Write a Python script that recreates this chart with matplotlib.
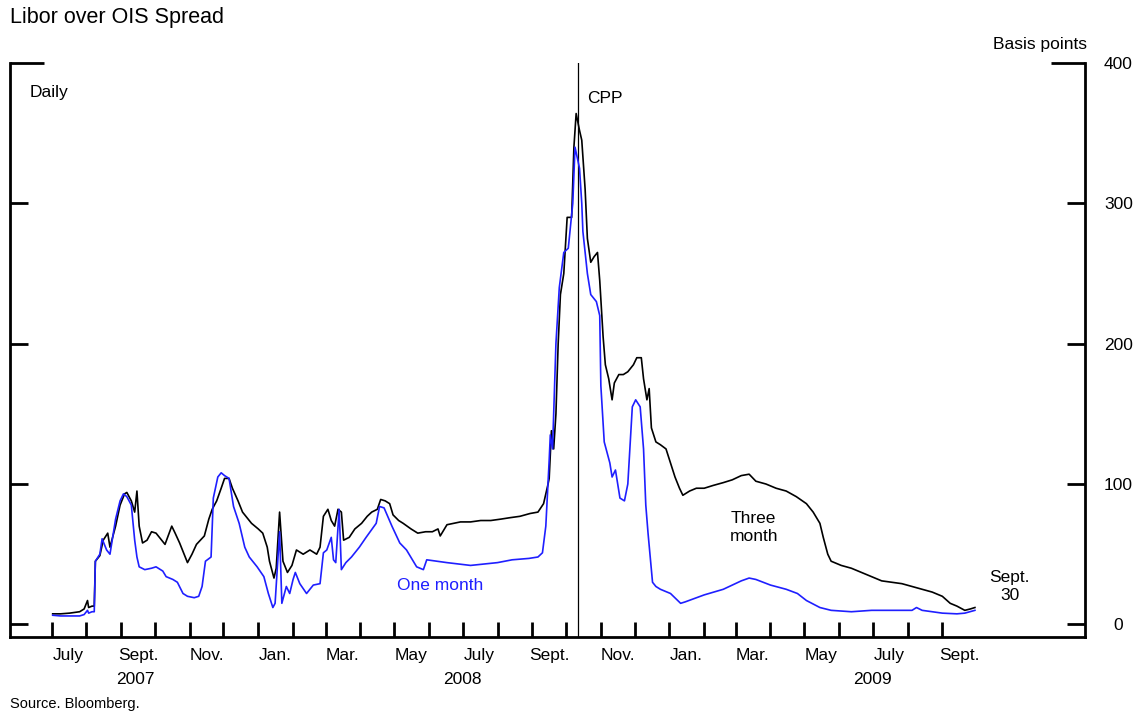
import matplotlib
matplotlib.use("Agg")
import matplotlib.pyplot as plt
import matplotlib.transforms as mtransforms
import numpy as np
import pandas as pd

plt.rcParams['font.family'] = ['Liberation Sans', 'DejaVu Sans']

# ---------------- data (basis points) ----------------
three_month_dates = [
    "2007-07-02", "2007-07-09", "2007-07-17", "2007-07-26", "2007-07-30", "2007-08-02", "2007-08-03",
    "2007-08-06", "2007-08-08", "2007-08-09", "2007-08-13", "2007-08-16", "2007-08-20", "2007-08-22",
    "2007-08-27", "2007-08-31", "2007-09-04", "2007-09-06", "2007-09-10", "2007-09-13", "2007-09-15",
    "2007-09-17", "2007-09-20", "2007-09-24", "2007-09-28", "2007-10-02", "2007-10-07", "2007-10-10",
    "2007-10-16", "2007-10-19", "2007-10-23", "2007-10-27", "2007-10-30", "2007-11-03", "2007-11-07",
    "2007-11-14", "2007-11-18", "2007-11-21", "2007-11-25", "2007-11-29", "2007-12-02", "2007-12-06",
    "2007-12-09", "2007-12-14", "2007-12-18", "2007-12-23", "2007-12-26", "2008-01-01", "2008-01-05",
    "2008-01-09", "2008-01-11", "2008-01-15", "2008-01-17", "2008-01-20", "2008-01-23", "2008-01-27",
    "2008-01-31", "2008-02-04", "2008-02-10", "2008-02-16", "2008-02-22", "2008-02-25", "2008-02-28",
    "2008-03-03", "2008-03-06", "2008-03-09", "2008-03-12", "2008-03-15", "2008-03-17", "2008-03-22",
    "2008-03-27", "2008-04-02", "2008-04-07", "2008-04-11", "2008-04-16", "2008-04-19", "2008-04-23",
    "2008-04-27", "2008-04-30", "2008-05-05", "2008-05-09", "2008-05-16", "2008-05-22", "2008-05-29",
    "2008-06-04", "2008-06-09", "2008-06-11", "2008-06-17", "2008-06-29", "2008-07-08", "2008-07-17",
    "2008-07-26", "2008-08-04", "2008-08-12", "2008-08-21", "2008-08-30", "2008-09-06", "2008-09-11",
    "2008-09-15", "2008-09-16", "2008-09-18", "2008-09-20", "2008-09-22", "2008-09-24", "2008-09-26",
    "2008-09-29", "2008-10-02", "2008-10-06", "2008-10-08", "2008-10-10", "2008-10-13", "2008-10-15",
    "2008-10-18", "2008-10-20", "2008-10-23", "2008-10-26", "2008-10-29", "2008-10-31", "2008-11-03",
    "2008-11-05", "2008-11-08", "2008-11-11", "2008-11-13", "2008-11-17", "2008-11-21", "2008-11-25",
    "2008-11-30", "2008-12-03", "2008-12-07", "2008-12-09", "2008-12-12", "2008-12-14", "2008-12-16",
    "2008-12-20", "2008-12-24", "2008-12-29", "2009-01-02", "2009-01-06", "2009-01-10", "2009-01-13",
    "2009-01-19", "2009-01-25", "2009-02-01", "2009-02-09", "2009-02-18", "2009-02-26", "2009-03-06",
    "2009-03-13", "2009-03-19", "2009-03-28", "2009-04-06", "2009-04-15", "2009-04-24", "2009-05-03",
    "2009-05-09", "2009-05-15", "2009-05-18", "2009-05-22", "2009-05-25", "2009-06-03", "2009-06-12",
    "2009-06-21", "2009-06-30", "2009-07-09", "2009-07-18", "2009-07-27", "2009-08-05", "2009-08-14",
    "2009-08-23", "2009-09-01", "2009-09-08", "2009-09-14", "2009-09-21", "2009-09-26", "2009-09-30",
]
three_month_values = [
    7.5, 7.5, 8, 9, 11, 17, 12,
    13, 13, 45, 49, 60, 65, 55,
    70, 85, 93, 94, 88, 80, 95,
    70, 58, 60, 66, 65, 60, 57,
    70, 65, 58, 50, 44, 50, 57,
    63, 75, 82, 88, 97, 104, 104,
    97, 88, 80, 75, 72, 68, 65,
    55, 45, 33, 40, 80, 45, 37,
    42, 53, 50, 53, 50, 55, 77,
    82, 74, 70, 82, 80, 60, 62,
    68, 72, 77, 80, 82, 89, 88,
    86, 78, 74, 72, 68, 65, 66,
    66, 68, 63, 71, 73, 73, 74,
    74, 75, 76, 77, 79, 80, 86,
    100, 104, 138, 125, 150, 200, 235,
    250, 290, 290, 340, 364, 352, 345,
    310, 275, 258, 262, 265, 245, 205,
    185, 175, 160, 172, 178, 178, 180,
    185, 190, 190, 175, 160, 168, 140,
    130, 128, 125, 115, 105, 97, 92,
    95, 97, 97, 99, 101, 103, 106,
    107, 102, 100, 97, 95, 91, 86,
    80, 72, 62, 50, 45, 42, 40,
    37, 34, 31, 30, 29, 27, 25,
    23, 20, 15, 13, 10, 11, 12,
]

one_month_dates = [
    "2007-07-02", "2007-07-09", "2007-07-17", "2007-07-26", "2007-07-30", "2007-08-02", "2007-08-03",
    "2007-08-06", "2007-08-08", "2007-08-09", "2007-08-13", "2007-08-15", "2007-08-19", "2007-08-22",
    "2007-08-27", "2007-08-31", "2007-09-03", "2007-09-06", "2007-09-10", "2007-09-13", "2007-09-15",
    "2007-09-17", "2007-09-22", "2007-09-28", "2007-10-02", "2007-10-08", "2007-10-11", "2007-10-17",
    "2007-10-21", "2007-10-26", "2007-10-30", "2007-11-05", "2007-11-09", "2007-11-12", "2007-11-15",
    "2007-11-20", "2007-11-22", "2007-11-26", "2007-11-29", "2007-12-02", "2007-12-06", "2007-12-10",
    "2007-12-15", "2007-12-20", "2007-12-24", "2007-12-31", "2008-01-06", "2008-01-10", "2008-01-14",
    "2008-01-16", "2008-01-20", "2008-01-22", "2008-01-26", "2008-01-29", "2008-02-01", "2008-02-03",
    "2008-02-07", "2008-02-13", "2008-02-19", "2008-02-25", "2008-02-28", "2008-03-02", "2008-03-06",
    "2008-03-08", "2008-03-10", "2008-03-13", "2008-03-15", "2008-03-19", "2008-03-24", "2008-03-31",
    "2008-04-06", "2008-04-15", "2008-04-18", "2008-04-22", "2008-04-29", "2008-05-06", "2008-05-12",
    "2008-05-21", "2008-05-27", "2008-05-30", "2008-06-17", "2008-07-08", "2008-08-01", "2008-08-14",
    "2008-08-29", "2008-09-06", "2008-09-10", "2008-09-13", "2008-09-16", "2008-09-17", "2008-09-19",
    "2008-09-22", "2008-09-25", "2008-09-29", "2008-10-03", "2008-10-07", "2008-10-09", "2008-10-13",
    "2008-10-15", "2008-10-16", "2008-10-20", "2008-10-23", "2008-10-28", "2008-10-31", "2008-11-01",
    "2008-11-04", "2008-11-09", "2008-11-11", "2008-11-14", "2008-11-18", "2008-11-22", "2008-11-25",
    "2008-11-29", "2008-12-02", "2008-12-06", "2008-12-09", "2008-12-11", "2008-12-13", "2008-12-17",
    "2008-12-20", "2008-12-24", "2009-01-02", "2009-01-11", "2009-01-15", "2009-02-01", "2009-02-18",
    "2009-03-06", "2009-03-13", "2009-03-19", "2009-04-01", "2009-04-15", "2009-04-25", "2009-05-03",
    "2009-05-15", "2009-05-25", "2009-06-12", "2009-06-30", "2009-07-18", "2009-07-27", "2009-08-05",
    "2009-08-09", "2009-08-14", "2009-08-23", "2009-09-01", "2009-09-14", "2009-09-21", "2009-09-30",
]
one_month_values = [
    6.5, 6, 6, 6, 7, 10, 8,
    9, 9, 45, 50, 61, 53, 50,
    75, 88, 93, 91, 85, 60, 48,
    41, 39, 40, 41, 38, 34, 32,
    30, 22, 20, 19, 20, 27, 45,
    48, 90, 105, 108, 106, 104, 84,
    72, 55, 48, 41, 34, 22, 12,
    15, 66, 15, 27, 22, 32, 37,
    29, 22, 28, 29, 51, 53, 62,
    46, 44, 82, 39, 44, 48, 55,
    62, 72, 84, 83, 70, 58, 53,
    41, 39, 46, 44, 42, 44, 46,
    47, 48, 51, 70, 117, 135, 125,
    200, 240, 265, 268, 300, 340, 325,
    300, 280, 250, 235, 230, 220, 170,
    130, 115, 105, 110, 90, 88, 100,
    155, 160, 155, 125, 85, 65, 30,
    27, 25, 22, 15, 16, 21, 25,
    31, 33, 32, 28, 25, 22, 17,
    12, 10, 9, 10, 10, 10, 10,
    12, 10, 9, 8, 7.5, 8, 10,
]

month_labels = ["July", "Sept.", "Nov.", "Jan.", "Mar.", "May", "July", "Sept.",
                "Nov.", "Jan.", "Mar.", "May", "July", "Sept."]
year_labels = ["2007", "2008", "2009"]
year_label_dates = ["2007-09-14", "2008-07-01", "2009-07-01"]
y_ticks = [0, 100, 200, 300, 400]
cpp_date = "2008-10-12"

# ---------------- figure ----------------
fig = plt.figure(figsize=(11.37, 7.13), dpi=100)
ax = fig.add_axes([10 / 1137, 1 - 637 / 713, (1085 - 10) / 1137, (637 - 63) / 713])

d3 = pd.to_datetime(three_month_dates)
d1 = pd.to_datetime(one_month_dates)
ax.plot(d3, three_month_values, color="black", lw=1.2, zorder=3)
ax.plot(d1, one_month_values, color="#1f1fff", lw=1.2, zorder=3)
ax.axvline(pd.Timestamp(cpp_date), color="black", lw=0.9, zorder=2)

ax.set_xlim(pd.Timestamp("2007-05-25"), pd.Timestamp("2010-01-06"))
ax.set_ylim(-9, 400)

# spines
for s in ["left", "right", "bottom"]:
    ax.spines[s].set_linewidth(2.0)
ax.spines["top"].set_visible(False)

# y ticks: inside on both sides, labels right
ax.set_yticks(y_ticks[:-1])
ax.yaxis.set_minor_locator(matplotlib.ticker.FixedLocator([y_ticks[-1]]))
ax.tick_params(axis="y", which="major", direction="in", length=13, width=2.0,
               left=True, right=True, labelleft=False, labelright=True,
               labelsize=12.5, pad=24)
ax.tick_params(axis="y", which="minor", direction="in", length=24.5, width=2.0,
               left=True, right=True, labelleft=False, labelright=True,
               labelsize=12.5, pad=24)
ax.yaxis.set_minor_formatter(matplotlib.ticker.FixedFormatter([str(y_ticks[-1])]))
for lab in ax.get_yticklabels(which="both"):
    lab.set_horizontalalignment("center")

# x ticks: month starts (major, marks only), mid-month labels (minor, no marks)
major = pd.date_range("2007-07-01", "2009-09-01", freq="MS")
ax.set_xticks(major)
ax.set_xticklabels([])
label_months = pd.date_range("2007-07-01", "2009-09-01", freq="2MS")
mids = [m + pd.Timedelta(days=15) for m in label_months]
ax.set_xticks(mids, minor=True)
ax.set_xticklabels(month_labels, minor=True)
ax.tick_params(axis="x", which="major", direction="in", length=10.5, width=2.0,
               top=False)
ax.tick_params(axis="x", which="minor", length=0, labelsize=12.5, pad=8)

trans = mtransforms.blended_transform_factory(ax.transData, ax.transAxes)
for lab, dt in zip(year_labels, year_label_dates):
    ax.text(pd.Timestamp(dt), (637 - 680) / 574, lab, transform=trans,
            ha="center", va="center", fontsize=12.5)

# annotations
ax.text((30 - 10) / 1075, (637 - 93) / 574, "Daily", transform=ax.transAxes,
        ha="left", va="center", fontsize=12.5)
ax.annotate("CPP", xy=(pd.Timestamp(cpp_date), 375), xytext=(6, 0),
            textcoords="offset points", ha="left", va="center", fontsize=12.5)
ax.text(pd.Timestamp("2009-03-17"), 69, "Three\nmonth", ha="center", va="center",
        fontsize=12.5, linespacing=1.2)
ax.text(pd.Timestamp("2008-06-11"), 28, "One month", ha="center", va="center",
        fontsize=12.5, color="#1f1fff")
ax.text(pd.Timestamp("2009-10-31"), 27, "Sept.\n30", ha="center", va="center",
        fontsize=12.5, linespacing=1.2)

fig.text(10 / 1137, 1 - 18 / 713, "Libor over OIS Spread", ha="left", va="center",
         fontsize=15.5)
fig.text(1040 / 1137, 1 - 44 / 713, "Basis points", ha="center", va="center",
         fontsize=12.5)
fig.text(10 / 1137, 1 - 704 / 713, "Source. Bloomberg.", ha="left", va="center",
         fontsize=10.5)

fig.savefig("out.png", dpi=100)
